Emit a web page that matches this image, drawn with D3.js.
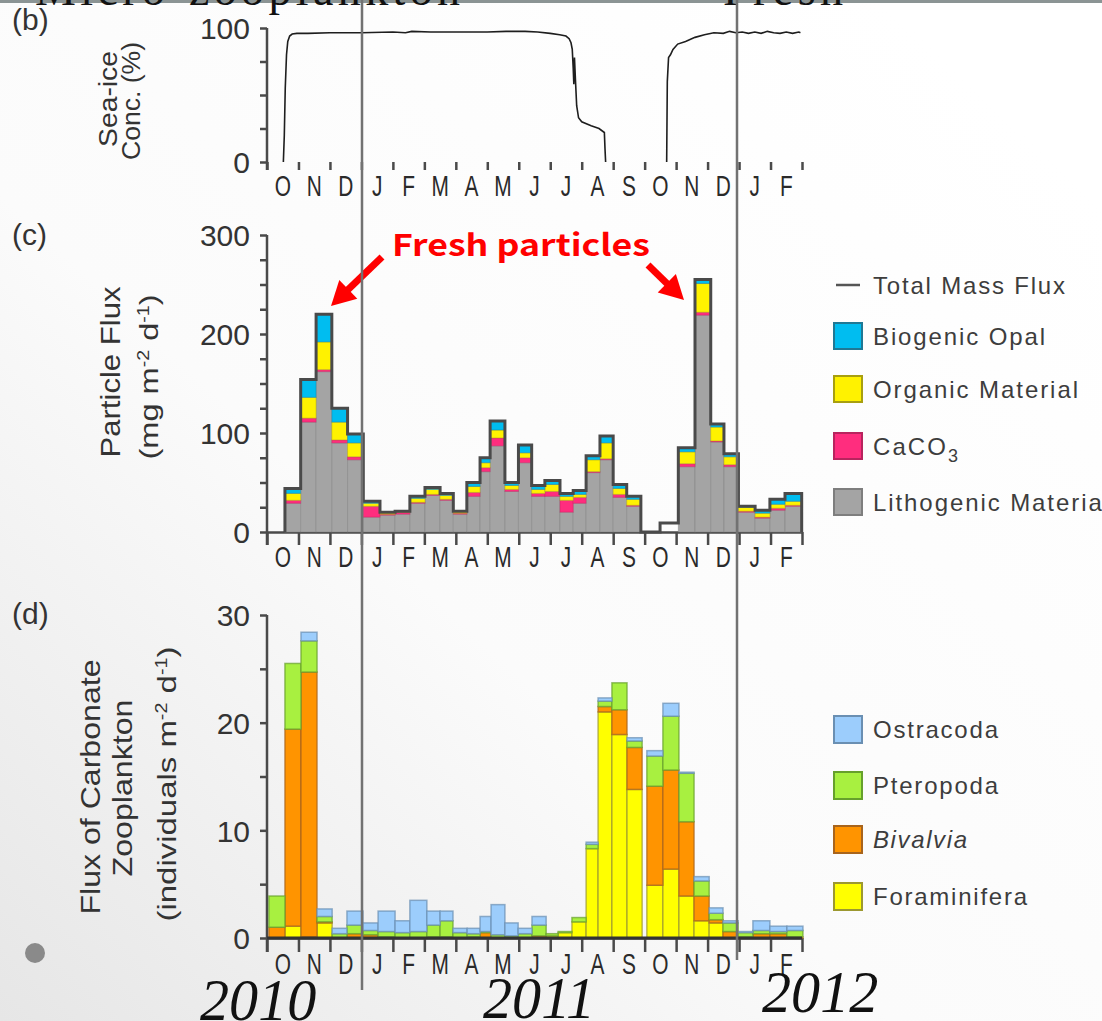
<!DOCTYPE html>
<html lang="en">
<head>
<meta charset="UTF-8">
<title>Sea ice, particle flux and carbonate zooplankton</title>
<script src="https://cdn.jsdelivr.net/npm/d3@7"></script>
<style>
  body { margin: 0; background: #fff; }
  svg { display: block; font-family: "Liberation Sans", Arial, sans-serif; }
  .axis path, .axis line { stroke: #4a4a4a; stroke-width: 2.5; fill: none; }
  .axis text { fill: #333; font-size: 30px; font-family: "Liberation Sans", Arial, sans-serif; }
  .month { fill: #2a2a2a; font-size: 29px; text-anchor: middle; }
  .ylab { fill: #333; text-anchor: middle; }
  .leg { fill: #3d3d3d; font-size: 24px; }
</style>
</head>
<body>
<svg id="chart" width="1102" height="1021"></svg>
<script>
// month labels, Oct 2010 .. Feb 2012 (x unit = months since 1 Oct 2010)
var months = ["O","N","D","J","F","M","A","M","J","J","A","S","O","N","D","J","F"];
var years = ["2010", "2011", "2012"];

// (b) sea-ice concentration (%)
var iceMonth = [0.52,0.55,0.58,0.62,0.66,0.72,0.8,0.95,1.3,2.0,3.0,4.0,4.4,4.6,5.2,6.0,7.0,7.6,8.2,8.6,9.0,9.3,9.5,9.6,9.66,9.7,9.73,9.75,9.77,9.8,9.84,9.9,10.0,10.3,10.55,10.72,10.74,10.76,
                11.7,
                12.7,12.72,12.76,12.82,12.9,13.05,13.3,13.6,13.9,14.2,14.5,14.7,14.9,15.1,15.3,15.5,15.7,15.9,16.1,16.3,16.5,16.7,16.9,16.95];
var iceConc  = [0,20,55,80,90,94,95.5,96,96,96.5,96.5,97,96.5,97.5,97,97,97,97.5,97.5,97,96,95,94,92,89,84,70,58,78,62,42,33,30,27,25,22,10,0,
                null,
                0,60,78,80,84,88,90,93,95,96.5,96,97.5,96.5,97,96,97,96,97.5,96.5,96,97,96,97,96.5];

// (c) particle flux bins (mg m-2 d-1)
var fluxStart = [0.57,1.07,1.56,2.06,2.56,3.06,3.59,4.07,4.54,5.02,5.50,5.92,6.35,6.77,7.09,7.56,7.99,8.41,8.83,9.31,9.73,10.14,10.58,11.00,11.43,11.88,12.49,13.07,13.60,14.10,14.52,14.98,15.51,15.98,16.46];
var fluxEnd   = [1.07,1.56,2.06,2.56,3.06,3.59,4.07,4.54,5.02,5.50,5.92,6.35,6.77,7.09,7.56,7.99,8.41,8.83,9.31,9.73,10.14,10.58,11.00,11.43,11.88,12.49,13.07,13.60,14.10,14.52,14.98,15.51,15.98,16.46,16.99];
var lithogenic = [29,111,162,90,73,15,17,18,29,37,32,18,36,61,87,41,70,36,36,20,29,60,73,35,26,0,0,66,219,91,66,20,14,22,26];
var caco3      = [3,4,2,3,3,11,1,2,1,1,1,1,4,4,8,2,5,3,5,12,6,1,1,3,1,0,0,3,3,1,2,1,1,2,1];
var organic    = [7,21,28,18,14,3,2,1,4,5,4,2,6,5,8,4,5,4,7,4,3,12,16,6,6,0,0,12,29,14,8,4,4,4,4];
var opal       = [5,18,28,14,9,2,0,0,2,2,2,0,4,5,9,3,8,4,4,3,4,4,7,4,3,0,0,4,4,3,3,1,3,5,8];
var totalMass  = [44,154,220,125,99,31,20,21,36,45,39,21,50,75,112,50,88,47,52,39,42,77,97,48,36,0,9,85,255,109,79,26,22,33,39];

// (d) carbonate zooplankton bins (individuals m-2 d-1)
var zooStart = [0.06,0.57,1.08,1.59,2.07,2.54,3.05,3.53,4.07,4.54,5.08,5.50,5.91,6.36,6.77,7.12,7.56,7.98,8.42,8.87,9.25,9.69,10.14,10.52,10.96,11.44,12.07,12.58,13.09,13.57,14.05,14.49,14.97,15.44,15.98,16.52];
var zooEnd   = [0.57,1.08,1.59,2.07,2.54,3.05,3.53,4.07,4.54,5.08,5.50,5.91,6.36,6.77,7.12,7.56,7.98,8.42,8.87,9.25,9.69,10.14,10.52,10.96,11.44,11.92,12.58,13.09,13.57,14.05,14.49,14.97,15.44,15.98,16.52,17.03];
var foraminifera = [0,1.1,0.1,1.4,0,0,0,0,0,0,0,0,0,0,0,0,0,0,0,0.2,0.5,1.5,8.3,21.0,18.9,13.8,4.9,6.4,3.9,1.6,1.4,0,0.1,0,0,0];
var bivalvia     = [1.0,18.3,24.6,0.1,0,0.4,0.3,0.1,0,0,0.1,0.1,0,0.1,0.5,0,0,0,0.2,0,0,0,0,0.5,2.3,3.9,9.2,9.2,6.9,2.3,0.3,0.6,0,0.4,0.4,0.1];
var pteropoda    = [2.9,6.1,2.9,0.5,0.4,0.8,0.4,0.5,0.5,0.6,1.1,1.5,0.5,0.3,0.1,0.3,0.2,0.4,1.0,0.2,0.1,0.4,0.4,0.5,2.5,0.6,2.8,5.0,4.5,1.4,0.6,0.8,0.4,0.3,0.2,0.6];
var ostracoda    = [0,0,0.8,0.7,0.5,1.3,0.7,1.9,1.1,2.9,1.3,0.9,0.4,0.5,1.4,2.8,1.2,0.5,0.8,0,0,0,0.2,0.3,0,0.3,0.5,1.2,0.1,0.4,0.5,0.2,0.1,0.9,0.5,0.4];

var fluxColors = {litho: ["#a4a4a4", "#7e7e7e"], caco3: ["#ff2d7e", "#b8245e"], organic: ["#fff200", "#a89f10"], opal: ["#00bdf0", "#1f7894"]};
var zooColors = {foram: ["#ffff00", "#9c9830"], biv: ["#ff9400", "#a8641c"], ptero: ["#a8f040", "#66a02c"], ostra: ["#9ccdfc", "#6a8fb2"]};

var svg = d3.select("#chart");

// slide background
var defs = svg.append("defs");
var grad = defs.append("linearGradient").attr("id", "bg")
    .attr("x1", 0.9).attr("y1", 0.1).attr("x2", 0).attr("y2", 1);
grad.append("stop").attr("offset", 0).attr("stop-color", "#ffffff");
grad.append("stop").attr("offset", 0.55).attr("stop-color", "#fbfbfb");
grad.append("stop").attr("offset", 1).attr("stop-color", "#e6e6e6");
svg.append("rect").attr("width", 1102).attr("height", 1021).attr("fill", "url(#bg)");

// cut-off slide heading
svg.append("line").attr("x1", 0).attr("x2", 1102).attr("y1", 1.5).attr("y2", 1.5)
    .attr("stroke", "#8b9494").attr("stroke-width", 3);
svg.append("text").attr("x", 35).attr("y", 5).attr("textLength", 425)
    .style("font-family", "'Liberation Serif', serif").style("font-size", "46px").style("fill", "#111")
    .text("Micro-zooplankton");
svg.append("text").attr("x", 723).attr("y", 5).attr("textLength", 120)
    .style("font-family", "'Liberation Serif', serif").style("font-size", "46px").style("fill", "#111")
    .text("Fresh");

var x = d3.scaleLinear().domain([0, 17]).range([267, 802]);
var yIce = d3.scaleLinear().domain([0, 100]).range([162, 28]);
var yFlux = d3.scaleLinear().domain([0, 300]).range([532, 235]);
var yZoo = d3.scaleLinear().domain([0, 30]).range([938, 615]);

function panelAxes(y, allTicks, majorTicks, base, tickLen, labelBase, drawBase) {
    var g = svg.append("g");
    // y axis
    g.append("g").attr("class", "axis")
        .attr("transform", "translate(" + x.range()[0] + ",0)")
        .call(d3.axisLeft(y).tickValues(allTicks).tickSize(7).tickPadding(10)
            .tickFormat(function(d) { return majorTicks.indexOf(d) >= 0 ? d : ""; }))
        .call(function(a) { a.select(".domain").remove(); })
        .selectAll("text").attr("dy", "0.36em");
    g.append("line").attr("class", "axis")
        .attr("x1", x.range()[0]).attr("x2", x.range()[0])
        .attr("y1", y.range()[1]).attr("y2", base + tickLen)
        .attr("stroke", "#4a4a4a").attr("stroke-width", 2.5);
    // x axis: month boundaries
    var xa = g.append("g").attr("class", "axis")
        .attr("transform", "translate(0," + base + ")")
        .call(d3.axisBottom(x).tickValues(d3.range(0, 18)).tickSize(tickLen).tickSizeOuter(0).tickFormat(""));
    if (!drawBase) xa.select(".domain").remove();
    else xa.select(".domain").attr("stroke-width", 3);
    g.selectAll(".month-" + base).data(months).enter().append("text")
        .attr("class", "month")
        .attr("transform", function(d, i) { return "translate(" + x(i + 0.5) + "," + labelBase + ") scale(0.72,1)"; })
        .text(function(d) { return d; });
}

function panelTag(txt, yb) {
    svg.append("text").attr("x", 12).attr("y", yb)
        .style("font-size", "30px").style("fill", "#333").text(txt);
}

function rotLabel(cx, cy, len, size, parts) {
    var t = svg.append("text").attr("class", "ylab")
        .attr("transform", "translate(" + cx + "," + cy + ") rotate(-90)")
        .attr("textLength", len).attr("lengthAdjust", "spacingAndGlyphs")
        .style("font-size", size + "px");
    parts.forEach(function(p) {
        var s = t.append("tspan").text(p[0]);
        if (p[1] === "sup") s.attr("dy", -9).style("font-size", (size * 0.6) + "px");
        if (p[1] === "back") s.attr("dy", 9);
    });
}

// ---------- (b) sea ice ----------
panelTag("(b)", 30);
rotLabel(117, 99, 96, 26, [["Sea-ice"]]);
rotLabel(140, 101, 118, 26, [["Conc. (%)"]]);
panelAxes(yIce, [0, 25, 50, 75, 100], [0, 100], 162, 8, 196, false);

var icePts = iceMonth.map(function(m, i) { return {m: m, v: iceConc[i]}; });
svg.append("path").datum(icePts)
    .attr("fill", "none").attr("stroke", "#1e1e1e").attr("stroke-width", 1.6)
    .attr("d", d3.line().defined(function(d) { return d.v !== null; })
        .x(function(d) { return x(d.m); }).y(function(d) { return yIce(d.v); }));

// ---------- (c) particle flux ----------
panelTag("(c)", 245);
rotLabel(120, 372, 171, 28, [["Particle Flux"]]);
rotLabel(158, 377, 165, 26, [["(mg m"], ["-2", "sup"], [" d", "back"], ["-1", "sup"], [")", "back"]]);
panelAxes(yFlux, d3.range(0, 301, 25), [0, 100, 200, 300], 532, 13, 567, true);

var fluxRows = fluxStart.map(function(s, i) {
    return {s: s, e: fluxEnd[i], litho: lithogenic[i], caco3: caco3[i], organic: organic[i], opal: opal[i]};
});
var fluxStack = d3.stack().keys(["litho", "caco3", "organic", "opal"])(fluxRows);
svg.append("g").selectAll("g").data(fluxStack).enter().append("g")
    .attr("fill", function(d) { return fluxColors[d.key][0]; })
    .attr("stroke", function(d) { return fluxColors[d.key][1]; })
    .attr("stroke-opacity", 0.45).attr("stroke-width", 1)
  .selectAll("rect").data(function(d) { return d.filter(function(p) { return p[1] > p[0]; }); })
  .enter().append("rect")
    .attr("x", function(d) { return x(d.data.s); })
    .attr("width", function(d) { return x(d.data.e) - x(d.data.s); })
    .attr("y", function(d) { return yFlux(d[1]); })
    .attr("height", function(d) { return yFlux(d[0]) - yFlux(d[1]); });

var massPts = [{m: fluxStart[0], v: 0}]
    .concat(fluxStart.map(function(s, i) { return {m: s, v: totalMass[i]}; }))
    .concat([{m: fluxEnd[fluxEnd.length - 1], v: 0}]);
svg.append("path").datum(massPts)
    .attr("fill", "none").attr("stroke", "#4a4a4a").attr("stroke-width", 3)
    .attr("d", d3.line().curve(d3.curveStepAfter)
        .x(function(d) { return x(d.m); }).y(function(d) { return yFlux(d.v); }));

// legend (c)
var legC = svg.append("g").attr("transform", "translate(833,0)");
legC.append("line").attr("x1", 3).attr("x2", 27).attr("y1", 285).attr("y2", 285)
    .attr("stroke", "#555").attr("stroke-width", 2.5);
legC.append("text").attr("class", "leg").attr("x", 40).attr("y", 294).attr("textLength", 192).text("Total Mass Flux");
var legCItems = [
    {key: "opal", label: "Biogenic Opal", y: 323, len: 172},
    {key: "organic", label: "Organic Material", y: 376, len: 205},
    {key: "caco3", label: "CaCO", sub: "3", y: 433, len: 85},
    {key: "litho", label: "Lithogenic Material", y: 489, len: 236}
];
legCItems.forEach(function(it) {
    legC.append("rect").attr("x", 1).attr("y", it.y).attr("width", 28).attr("height", 26)
        .attr("fill", fluxColors[it.key][0]).attr("stroke", fluxColors[it.key][1]).attr("stroke-width", 2);
    var t = legC.append("text").attr("class", "leg").attr("x", 40).attr("y", it.y + 22)
        .attr("textLength", it.len).text(it.label);
    if (it.sub) t.append("tspan").attr("dy", 7).style("font-size", "18px").text(it.sub);
});

// Fresh particles annotation
svg.append("text").attr("x", 392).attr("y", 256).attr("textLength", 258).attr("lengthAdjust", "spacingAndGlyphs")
    .style("font-family", "'Noto Sans CJK JP', 'Noto Sans', sans-serif").style("font-weight", 700)
    .style("font-size", "30px").style("fill", "#ff0000").text("Fresh particles");

function arrow(x1, y1, x2, y2) {
    var dx = x2 - x1, dy = y2 - y1, len = Math.sqrt(dx * dx + dy * dy);
    var ux = dx / len, uy = dy / len, hl = 24, hw = 13;
    var bx = x2 - ux * hl, by = y2 - uy * hl;
    svg.append("line").attr("x1", x1).attr("y1", y1).attr("x2", bx + ux * 2).attr("y2", by + uy * 2)
        .attr("stroke", "#ff0000").attr("stroke-width", 7);
    svg.append("path").attr("fill", "#ff0000")
        .attr("d", "M" + x2 + "," + y2 + "L" + (bx - uy * hw) + "," + (by + ux * hw) + "L" + (bx + uy * hw) + "," + (by - ux * hw) + "Z");
}
arrow(382, 257, 331, 306);
arrow(648, 265, 684, 300);

// ---------- (d) carbonate zooplankton ----------
panelTag("(d)", 624);
rotLabel(100, 787, 255, 28, [["Flux of Carbonate"]]);
rotLabel(132, 788, 177, 28, [["Zooplankton"]]);
rotLabel(176, 784, 275, 26, [["(individuals m"], ["-2", "sup"], [" d", "back"], ["-1", "sup"], [")", "back"]]);
panelAxes(yZoo, d3.range(0, 31, 5), [0, 10, 20, 30], 938, 14, 974, true);

var zooRows = zooStart.map(function(s, i) {
    return {s: s, e: zooEnd[i], foram: foraminifera[i], biv: bivalvia[i], ptero: pteropoda[i], ostra: ostracoda[i]};
});
var zooStack = d3.stack().keys(["foram", "biv", "ptero", "ostra"])(zooRows);
svg.append("g").selectAll("g").data(zooStack).enter().append("g")
    .attr("fill", function(d) { return zooColors[d.key][0]; })
    .attr("stroke", function(d) { return zooColors[d.key][1]; })
    .attr("stroke-opacity", 0.7).attr("stroke-width", 1.5)
  .selectAll("rect").data(function(d) { return d.filter(function(p) { return p[1] > p[0]; }); })
  .enter().append("rect")
    .attr("x", function(d) { return x(d.data.s); })
    .attr("width", function(d) { return x(d.data.e) - x(d.data.s); })
    .attr("y", function(d) { return yZoo(d[1]); })
    .attr("height", function(d) { return yZoo(d[0]) - yZoo(d[1]); });

svg.append("line").attr("x1", x(0)).attr("x2", x(17)).attr("y1", yZoo(0)).attr("y2", yZoo(0))
    .attr("stroke", "#333").attr("stroke-width", 3);

// legend (d)
var legD = svg.append("g").attr("transform", "translate(833,0)");
var legDItems = [
    {key: "ostra", label: "Ostracoda", y: 716, len: 125},
    {key: "ptero", label: "Pteropoda", y: 772, len: 125},
    {key: "biv", label: "Bivalvia", y: 826, len: 94, italic: true},
    {key: "foram", label: "Foraminifera", y: 883, len: 154}
];
legDItems.forEach(function(it) {
    legD.append("rect").attr("x", 1).attr("y", it.y).attr("width", 28).attr("height", 27)
        .attr("fill", zooColors[it.key][0]).attr("stroke", zooColors[it.key][1]).attr("stroke-width", 2);
    legD.append("text").attr("class", "leg").attr("x", 40).attr("y", it.y + 22)
        .attr("textLength", it.len)
        .style("font-style", it.italic ? "italic" : "normal").text(it.label);
});

// year boundary lines
svg.append("line").attr("x1", 362).attr("x2", 362).attr("y1", 0).attr("y2", 990)
    .attr("stroke", "#727272").attr("stroke-width", 2.5);
svg.append("line").attr("x1", 737).attr("x2", 737).attr("y1", 0).attr("y2", 960)
    .attr("stroke", "#727272").attr("stroke-width", 2.5);

// years
var yearX = [200, 483, 762], yearBase = [1020, 1018, 1012];
years.forEach(function(yr, i) {
    svg.append("text")
        .attr("transform", "translate(" + yearX[i] + "," + yearBase[i] + ") scale(0.97,1)")
        .style("font-family", "'Liberation Serif', serif").style("font-style", "italic")
        .style("font-size", "60px").style("fill", "#111")
        .text(yr);
});

// slide bullet
svg.append("circle").attr("cx", 35).attr("cy", 953).attr("r", 10).attr("fill", "#8a8a8a");
</script>
</body>
</html>
